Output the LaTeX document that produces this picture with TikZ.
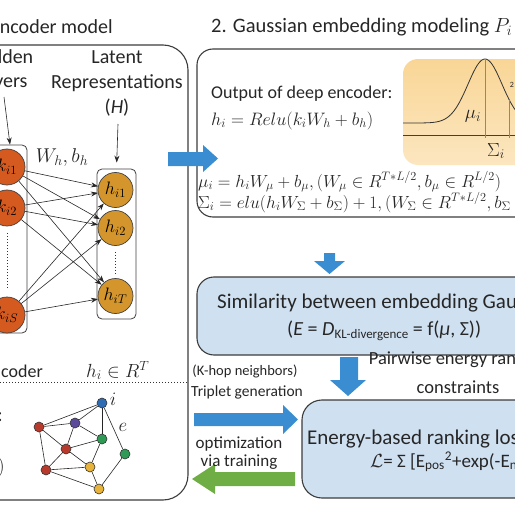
\RequirePackage{fix-cm}
\documentclass[tikz,border=0pt]{standalone}
\usepackage{fontspec}
\setmainfont{Carlito}
\usetikzlibrary{arrows.meta}
\definecolor{boxgray}{HTML}{3C3C3C}
\definecolor{kred}{HTML}{D45A20}
\definecolor{hgold}{HTML}{D4962C}
\definecolor{lblue}{HTML}{CFE0F1}
\definecolor{ablue}{HTML}{3A8DD0}
\definecolor{agreen}{HTML}{6FAD45}
\definecolor{gtop}{HTML}{F9D696}
\definecolor{gbot}{HTML}{FCE6C0}
\definecolor{teal}{HTML}{5B9E93}
\definecolor{gred}{HTML}{B83A2C}
\definecolor{gblue}{HTML}{2E6DB4}
\definecolor{gpurple}{HTML}{5B4A9B}
\definecolor{ggreen}{HTML}{2E9A55}
\definecolor{gyellow}{HTML}{E8B33A}
\newcommand{\myfs}[2]{\fontsize{#1}{#2}\selectfont}
\begin{document}
\begin{tikzpicture}[x=1pt,y=-1pt,
  box/.style={draw=boxgray, line width=1.1pt},
  kcirc/.style={circle, draw=black!75, line width=0.7pt, fill=kred, minimum size=36pt, inner sep=0pt, font=\myfs{18}{20}},
  hcirc/.style={circle, draw=black!75, line width=0.7pt, fill=hgold, minimum size=35pt, inner sep=0pt, font=\myfs{18}{20}},
  gnode/.style={circle, draw=black!80, line width=0.6pt, minimum size=10pt, inner sep=0pt},
  nnarrow/.style={-{Stealth[length=7pt,width=5pt]}, line width=0.6pt, black!85},
  gedge/.style={line width=0.6pt, black!85},
  txt/.style={inner sep=0pt, text=black!85}]
\useasboundingbox (0,0) rectangle (515,514);
\clip (0,0) rectangle (515,514);

% ---------- left box ----------
\draw[box, rounded corners=25] (-40,45) rectangle (188,500);
\node[txt, anchor=base east, font=\myfs{20}{24}] (t1) at (113,33) {encoder model};
\draw[dotted, line width=1pt, black!80] (0,382) -- (188,382);

\node[txt, anchor=base, align=center, font=\myfs{20}{24}] (hid) at (4,87) {Hidden\\layers};
\node[txt, anchor=base, align=center, font=\myfs{20}{25}] (lat) at (117,113) {Latent\\Representations\\(\textit{H})};

\node[draw=black!75, line width=0.8pt, rounded corners=5, minimum width=50pt, minimum height=188pt] (kbox) at (2,239) {};
\node[draw=black!75, line width=0.8pt, rounded corners=5, minimum width=39pt, minimum height=150pt] (hbox) at (116.5,244) {};

\node[kcirc] (k1) at (7,167) {$k_{i1}$};
\node[kcirc] (k2) at (7,208) {$k_{i2}$};
\node[kcirc] (kS) at (7,315) {$k_{iS}$};
\node[hcirc] (h1) at (115.5,190) {$h_{i1}$};
\node[hcirc] (h2) at (115.5,228) {$h_{i2}$};
\node[hcirc] (hT) at (115.5,296) {$h_{iT}$};
\draw[dotted, line width=1pt, black!80] ([yshift=-7pt]k2.south) -- ([yshift=7pt]kS.north);
\draw[dotted, line width=1pt, black!80] ([yshift=-6pt]h2.south) -- ([yshift=5pt]hT.north);

\foreach \a in {k1,k2,kS}
  \foreach \b in {h1,h2,hT}
    \draw[nnarrow] (\a) -- (\b);

\coordinate (hl) at (4,97);
\draw[nnarrow] (hl) -- (kbox.north -| 10,0);
\coordinate (lt) at (118,124);
\draw[nnarrow, shorten >=6pt] (lt) -- (hbox.north);

\node[txt, anchor=base, font=\myfs{20}{24}] (wh) at (62,162) {$W_h, b_h$};

\node[txt, anchor=base east, font=\myfs{18}{22}] (enc) at (43,377) {encoder};
\node[txt, anchor=base west, font=\myfs{19}{24}] (hin) at (86,377) {$h_i \in R^T$};
\node[txt, anchor=base east, font=\myfs{20}{22}] (col) at (3,421) {:};
\node[txt, anchor=base east, font=\myfs{20}{22}] (par) at (5,472) {$)$};

% graph
\node[gnode, fill=gblue] (gi) at (102,403) {};
\node[gnode, fill=gred] (r1) at (39,427) {};
\node[gnode, fill=gpurple] (pu) at (75,423) {};
\node[gnode, fill=ggreen] (g1) at (102,439) {};
\node[gnode, fill=ggreen] (g2) at (125,454) {};
\node[gnode, fill=gred] (r2) at (66,449) {};
\node[gnode, fill=gyellow] (y1) at (90,467) {};
\node[gnode, fill=gred] (r3) at (46,470) {};
\node[gnode, fill=gyellow] (y2) at (99,489) {};
\foreach \u/\v in {gi/r1, gi/pu, gi/g1, gi/g2, r1/pu, r1/r2, r1/r3, pu/r2, pu/g1, r2/g1, r2/y1, g1/y1, r3/r2, r3/y1, r3/y2, y1/y2, g2/y2}
  \draw[gedge] (\u) -- (\v);
\node[txt, font=\myfs{19}{22}] (li) at (113,399) {$i$};
\node[txt, font=\myfs{19}{22}] (le) at (123,427) {$e$};

% ---------- right side ----------
\node[txt, anchor=base west, font=\myfs{20.5}{25}] (t2) at (211,32) {2. Gaussian embedding modeling $P_i \sim \mathcal{N}(\mu_i,\Sigma_i)$};
\draw[box, rounded corners=16] (197,49) rectangle (580,217);

\shade[top color=gtop, bottom color=gbot, rounded corners=15] (403,59) rectangle (580,165);
\draw[line width=0.8pt, black!75] (403,135) -- (540,135);
\draw[line width=0.8pt, black!80, domain=403:540, samples=90, smooth] plot (\x, {123-64*exp(-((\x-485)*(\x-485))/578)});
\draw[line width=0.8pt, teal] (485,59) -- (485,138);
\draw[line width=0.8pt, teal] (509,99.5) -- (509,138);
\node[txt, font=\myfs{19}{22}] (mu) at (473,116) {$\mu_i$};
\node[txt, font=\myfs{19}{22}] (sig) at (496,151) {$\Sigma_i$};
\node[txt, font=\myfs{8}{10}] (two) at (512,85) {2};

\node[txt, anchor=base west, font=\myfs{18}{22}] (out) at (211,98) {Output of deep encoder:};
\node[txt, anchor=base west, font=\myfs{18}{22}] (eqh) at (211,125) {$h_i = Relu(k_iW_h + b_h)$};
\node[txt, anchor=base west, font=\myfs{17.5}{20}] (eqmu) at (198,187) {$\mu_i = h_iW_\mu + b_\mu, (W_\mu \in R^{T*L/2}, b_\mu \in R^{L/2})$};
\node[txt, anchor=base west, font=\myfs{17.5}{20}] (eqsig) at (198,208) {$\Sigma_i = elu(h_iW_\Sigma + b_\Sigma) + 1, (W_\Sigma \in R^{T*L/2}, b_\Sigma \in R^{L/2})$};

% block arrows
\fill[ablue] (168,152) -- (203,152) -- (203,145) -- (218,158.5) -- (203,172) -- (203,166) -- (168,166) -- cycle;
\fill[ablue] (324,253) -- (335,253) -- (335,261) -- (345,261) -- (329.5,274) -- (314,261) -- (324,261) -- cycle;
\fill[ablue] (340,357) -- (358,357) -- (358,380) -- (366,380) -- (348,396) -- (330,380) -- (340,380) -- cycle;
\fill[ablue] (194,413) -- (283,413) -- (283,405) -- (298,419.5) -- (283,434) -- (283,426) -- (194,426) -- cycle;
\fill[agreen] (295,472) -- (215,472) -- (215,464) -- (192,479) -- (215,494) -- (215,486) -- (295,486) -- cycle;

\node[box, fill=lblue, rounded corners=17, minimum width=376pt, minimum height=78pt] (sim) at (385,316) {};
\node[txt, anchor=base west, font=\myfs{21}{25}] (simt) at (217,308) {Similarity between embedding Gaussians};
\node[txt, anchor=base west, font=\myfs{20}{24}] (sime) at (287,335) {(\textit{E} = \textit{D}{\myfs{13}{15}\raisebox{-3pt}{KL-divergence}} = f(\textit{μ}, Σ))};

\node[txt, anchor=base, align=center, font=\myfs{18.5}{29}] (pw) at (458,393) {Pairwise energy ranking\\constraints};
\node[txt, anchor=base, font=\myfs{14.5}{17}] (khop) at (245,375) {(K-hop neighbors)};
\node[txt, anchor=base, font=\myfs{15.5}{20}] (trip) at (247,396) {Triplet generation};
\node[txt, anchor=base, align=center, font=\myfs{17}{18}] (opt) at (239,466) {optimization\\via training};

\node[box, fill=lblue, rounded corners=20, minimum width=300pt, minimum height=98pt] (ebl) at (452,449) {};
\node[txt, anchor=base west, font=\myfs{21}{25}] (eblt) at (307,444) {Energy-based ranking loss};
\node[txt, anchor=base west, font=\myfs{19}{23}] (eble) at (370,467) {$\mathcal{L}$= Σ [E\textsubscript{pos}\textsuperscript{2}+exp(-E\textsubscript{neg})]};
\end{tikzpicture}
\end{document}
